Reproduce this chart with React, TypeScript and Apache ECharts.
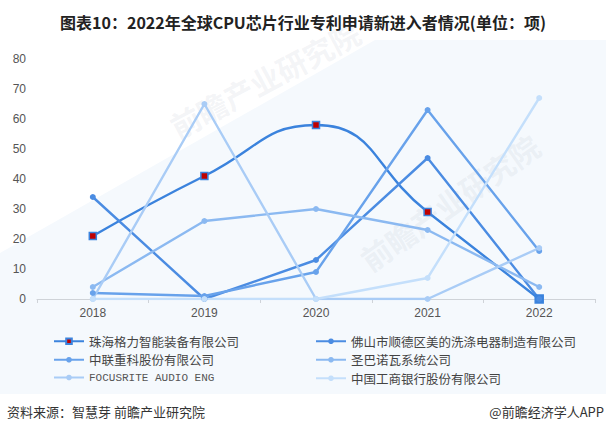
import React, { useEffect, useRef } from "react";
import * as echarts from "echarts";

const years = ["2018", "2019", "2020", "2021", "2022"];
const seriesNames = [
  "珠海格力智能装备有限公司",
  "佛山市顺德区美的洗涤电器制造有限公司",
  "中联重科股份有限公司",
  "圣巴诺瓦系统公司",
  "FOCUSRITE AUDIO ENG",
  "中国工商银行股份有限公司",
];
const geli = [21, 41, 58, 29, 0];
const midea = [34, 0, 13, 47, 0];
const zoomlion = [2, 1, 9, 63, 16];
const sanbanuowa = [4, 26, 30, 23, 4];
const focusrite = [0, 65, 0, 0, 17];
const icbc = [0, 0, 0, 7, 67];
const yTicks = { min: 0, max: 80, interval: 10 };
const title = "图表10：2022年全球CPU芯片行业专利申请新进入者情况(单位：项)";
const source = "资料来源：智慧芽 前瞻产业研究院";
const credit = "@前瞻经济学人APP";

const colors = ["#3b83dd", "#4b8ce2", "#68a2eb", "#8bb9f1", "#a9ccf6", "#c4dffb"];

export default function App() {
  const ref = useRef<HTMLDivElement>(null);
  useEffect(() => {
    if (!ref.current) return;
    const chart = echarts.init(ref.current, undefined, { renderer: "svg" });
    const values = [geli, midea, zoomlion, sanbanuowa, focusrite, icbc];
    const series: any[] = values.map((vals, i) => {
      const isGeli = i === 0;
      return {
        name: seriesNames[i],
        type: "line",
        smooth: isGeli,
        symbol: isGeli ? "rect" : "circle",
        symbolSize: isGeli ? 7 : 6,
        lineStyle: { width: 2.4, color: colors[i] },
        itemStyle: isGeli
          ? { color: "#c00000", borderColor: colors[0], borderWidth: 1.5 }
          : { color: colors[i], borderWidth: 0 },
        data: vals.map((v, j) =>
          isGeli && j === vals.length - 1
            ? { value: v, symbolSize: 8, itemStyle: { color: colors[0], borderColor: colors[0] } }
            : v
        ),
        z: 2,
      };
    });
    const legendText = {
      fontSize: 12.5,
      color: "#444",
      fontFamily: "Noto Sans CJK SC",
      rich: { m: { fontFamily: "Liberation Mono", fontSize: 11, color: "#555" } },
    };
    const fmt = (name: string) => (/^[A-Z ]+$/.test(name) ? `{m|${name}}` : name);
    const wm = { fontSize: 30, fontWeight: "bold", fill: "rgba(170,180,195,0.14)", fontFamily: "Noto Sans CJK SC" };
    chart.setOption({
      animation: false,
      backgroundColor: "#ffffff",
      textStyle: { fontFamily: "Liberation Sans" },
      color: colors,
      title: {
        text: title,
        left: "center",
        top: 9,
        textStyle: { fontSize: 16, fontWeight: "bold", color: "#222", fontFamily: "Noto Sans CJK SC" },
      },
      graphic: [
        {
          type: "polygon",
          z: -10,
          silent: true,
          shape: { points: [[0, 253], [375, 40], [606, 40], [606, 394], [0, 394]] },
          style: { fill: "#f5f9fd" },
        },
        {
          type: "text",
          z: -5,
          silent: true,
          x: 165,
          y: 115,
          rotation: (28 * Math.PI) / 180,
          style: { text: "前瞻产业研究院", ...wm },
        },
        {
          type: "text",
          z: -5,
          silent: true,
          x: 355,
          y: 250,
          rotation: (35 * Math.PI) / 180,
          style: { text: "前瞻产业研究院", ...wm },
        },
        {
          type: "text",
          left: 7,
          top: 405,
          style: { text: source, fontSize: 13, fill: "#333", fontFamily: "Noto Sans CJK SC" },
        },
        {
          type: "text",
          right: 2,
          top: 405,
          style: { text: credit, fontSize: 13, fill: "#333", fontFamily: "Noto Sans CJK SC" },
        },
      ],
      legend: [
        {
          data: [seriesNames[0], seriesNames[2], seriesNames[4]],
          orient: "vertical",
          left: 48,
          top: 330,
          itemGap: 6,
          itemWidth: 30,
          itemHeight: 7,
          formatter: fmt,
          textStyle: legendText,
        },
        {
          data: [seriesNames[1], seriesNames[3], seriesNames[5]],
          orient: "vertical",
          left: 310,
          top: 330,
          itemGap: 6,
          itemWidth: 30,
          itemHeight: 7,
          formatter: fmt,
          textStyle: legendText,
        },
      ],
      grid: { left: 37, right: 11, top: 59, bottom: 135, containLabel: false },
      xAxis: {
        type: "category",
        data: years,
        boundaryGap: true,
        axisLine: { lineStyle: { color: "#cfd3d8", width: 1 } },
        axisTick: { show: true, length: 4, lineStyle: { color: "#cfd3d8" } },
        axisLabel: { color: "#555", fontSize: 12, margin: 8 },
      },
      yAxis: {
        type: "value",
        min: yTicks.min,
        max: yTicks.max,
        interval: yTicks.interval,
        axisLine: { show: false },
        axisTick: { show: false },
        splitLine: { show: false },
        axisLabel: { color: "#555", fontSize: 12, margin: 11 },
      },
      series,
    });
    return () => chart.dispose();
  }, []);
  return <div ref={ref} style={{ width: 606, height: 434, position: "absolute", left: 0, top: 0 }} />;
}
